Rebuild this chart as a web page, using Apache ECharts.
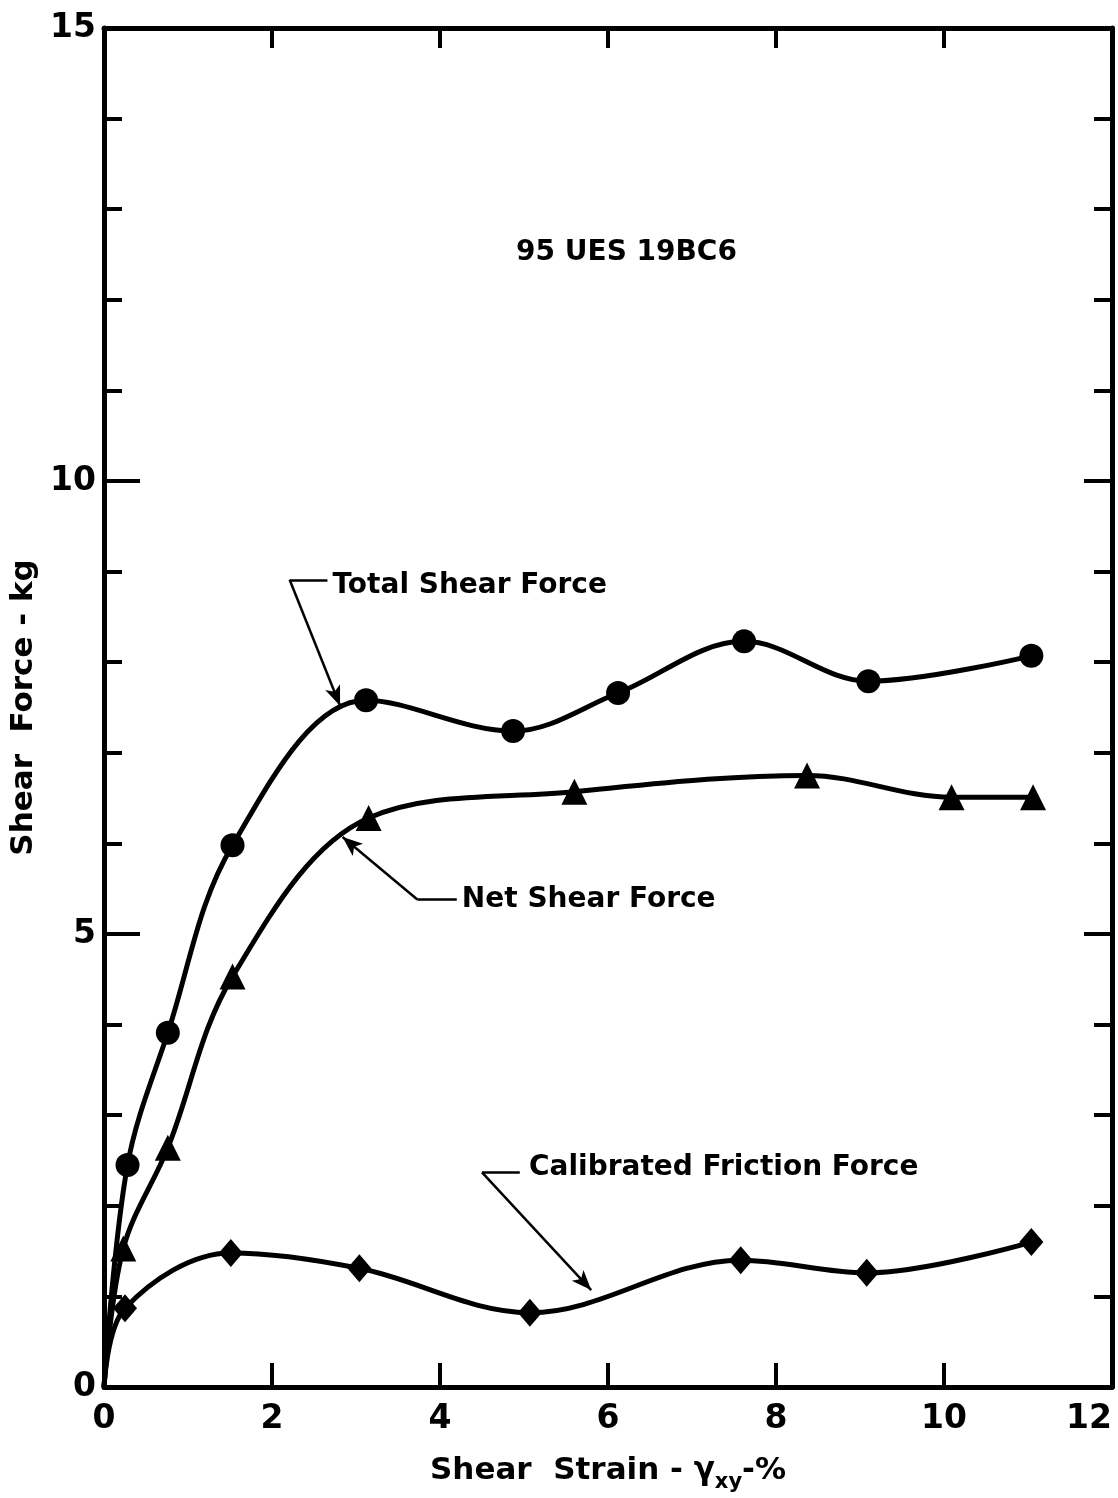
<!DOCTYPE html>
<html>
<head>
<meta charset="utf-8">
<script src="https://cdn.jsdelivr.net/npm/echarts@6/dist/echarts.min.js"></script>
<style>
html,body{margin:0;padding:0;background:#fff;}
#c{width:1118px;height:1498px;}
</style>
</head>
<body>
<div id="c"></div>
<script>
// ---- Data ----
const xTickLabels = [0, 2, 4, 6, 8, 10, 12];
const yTickLabels = [0, 5, 10, 15];

const totalX = [0, 0.28, 0.76, 1.53, 3.12, 4.87, 6.12, 7.62, 9.10, 11.04];
const totalY = [0, 2.45, 3.91, 5.98, 7.58, 7.24, 7.66, 8.23, 7.79, 8.07];

const netX = [0, 0.23, 0.76, 1.53, 3.15, 5.60, 8.37, 10.09, 11.06];
const netY = [0, 1.53, 2.64, 4.53, 6.28, 6.57, 6.75, 6.51, 6.51];

const fricX = [0, 0.25, 1.51, 3.04, 5.07, 7.58, 9.08, 11.04];
const fricY = [0, 0.87, 1.48, 1.31, 0.82, 1.40, 1.26, 1.60];

const titleText = '95 UES 19BC6';
const totalLabel = 'Total Shear Force';
const netLabel = 'Net Shear Force';
const fricLabel = 'Calibrated Friction Force';

// annotation anchors in data units: [corner, horizontal end, arrow tip, text start]
const totalNote = {corner: [2.21, 8.91], end: [2.66, 8.91], tip: [2.81, 7.52], text: [2.72, 8.84]};
const netNote = {corner: [3.73, 5.38], end: [4.20, 5.38], tip: [2.84, 6.07], text: [4.26, 5.38]};
const fricNote = {corner: [4.50, 2.37], end: [4.95, 2.37], tip: [5.80, 1.07], text: [5.06, 2.42]};
const titlePos = [6.22, 12.52];

// ---- Build ----
const FONT = '"DejaVu Sans", sans-serif';
function pts(xs, ys) {
  return xs.map((x, i) => i === 0 ? {value: [x, ys[i]], symbol: 'none'} : [x, ys[i]]);
}
function leader(note) {
  return [
    [{coord: note.corner, symbol: 'none'}, {coord: note.end, symbol: 'none'}],
    [{coord: note.corner, symbol: 'none'}, {coord: note.tip, symbol: 'arrow', symbolSize: [12, 20]}]
  ];
}
function textPoint(coord, text, pos, size) {
  return {
    coord: coord, symbol: 'circle', symbolSize: 0,
    label: {show: true, position: pos, distance: 0, formatter: text,
      color: '#000', fontFamily: FONT, fontWeight: 'bold', fontSize: size}
  };
}
const markLineBase = {
  silent: true, animation: false,
  lineStyle: {color: '#000', width: 2.5, type: 'solid'},
  label: {show: false}, emphasis: {disabled: true}
};
const markPointBase = {silent: true, animation: false, itemStyle: {color: 'transparent'}};

function lineSeries(name, xs, ys, symbol, size, note, labelText, extraPoints) {
  return {
    name: name, type: 'line', smooth: 0.35,
    data: pts(xs, ys),
    symbol: symbol, symbolSize: size, showSymbol: true,
    itemStyle: {color: '#000', borderWidth: 0},
    lineStyle: {color: '#000', width: 5},
    emphasis: {disabled: true},
    markLine: Object.assign({}, markLineBase, {data: leader(note)}),
    markPoint: Object.assign({}, markPointBase, {
      data: [textPoint(note.text, labelText, 'right', 28)].concat(extraPoints || [])
    }),
    z: 3
  };
}

const axisLineStyle = {color: '#000', width: 5};
const tickStyle = {color: '#000', width: 4};
const labelStyle = {color: '#000', fontFamily: FONT, fontWeight: 'bold', fontSize: 33};

const option = {
  animation: false,
  backgroundColor: '#fff',
  grid: {left: 104, right: 6, top: 28, bottom: 111, containLabel: false},
  xAxis: [{
    type: 'value', min: 0, max: 12, interval: 2, position: 'bottom',
    axisLine: {show: true, onZero: false, lineStyle: axisLineStyle},
    axisTick: {show: true, inside: true, length: 24, lineStyle: tickStyle},
    axisLabel: Object.assign({margin: 16, formatter: v => xTickLabels.includes(v) ? String(v) : '', alignMaxLabel: 'right'}, labelStyle),
    splitLine: {show: false},
    name: '{a|Shear  Strain - γ}{s|xy}{a|-%}',
    nameLocation: 'middle', nameGap: 62,
    nameTextStyle: {
      rich: {
        a: {fontFamily: FONT, fontWeight: 'bold', fontSize: 31, color: '#000', lineHeight: 44, verticalAlign: 'middle'},
        s: {fontFamily: FONT, fontWeight: 'bold', fontSize: 21, color: '#000', lineHeight: 44, verticalAlign: 'bottom', padding: [20, 0, 0, 0]}
      }
    }
  }, {
    type: 'value', min: 0, max: 12, interval: 2, position: 'top',
    axisLine: {show: true, onZero: false, lineStyle: axisLineStyle},
    axisTick: {show: true, inside: true, length: 20, lineStyle: tickStyle},
    axisLabel: {show: false}, splitLine: {show: false}
  }],
  yAxis: [{
    type: 'value', min: 0, max: 15, interval: 5, position: 'left',
    axisLine: {show: true, onZero: false, lineStyle: axisLineStyle},
    axisTick: {show: true, inside: true, length: 36, lineStyle: tickStyle},
    minorTick: {show: true, splitNumber: 5, length: 18, lineStyle: tickStyle},
    axisLabel: Object.assign({margin: 8, formatter: v => yTickLabels.includes(v) ? String(v) : ''}, labelStyle),
    splitLine: {show: false}, minorSplitLine: {show: false},
    name: 'Shear  Force - kg', nameLocation: 'middle', nameGap: 54, nameRotate: 90,
    nameTextStyle: {fontFamily: FONT, fontWeight: 'bold', fontSize: 31, color: '#000'}
  }, {
    type: 'value', min: 0, max: 15, interval: 5, position: 'right',
    axisLine: {show: true, onZero: false, lineStyle: axisLineStyle},
    axisTick: {show: true, inside: true, length: 28, lineStyle: tickStyle},
    minorTick: {show: true, splitNumber: 5, length: 18, lineStyle: tickStyle},
    axisLabel: {show: false}, splitLine: {show: false}, minorSplitLine: {show: false}
  }],
  series: [
    lineSeries('Total Shear Force', totalX, totalY, 'circle', 24, totalNote, totalLabel,
      [textPoint(titlePos, titleText, 'inside', 28)]),
    lineSeries('Net Shear Force', netX, netY, 'triangle', 26, netNote, netLabel),
    lineSeries('Calibrated Friction Force', fricX, fricY, 'diamond', [24, 28], fricNote, fricLabel)
  ]
};

const chart = echarts.init(document.getElementById('c'), null, {renderer: 'canvas'});
chart.setOption(option);
</script>
</body>
</html>
